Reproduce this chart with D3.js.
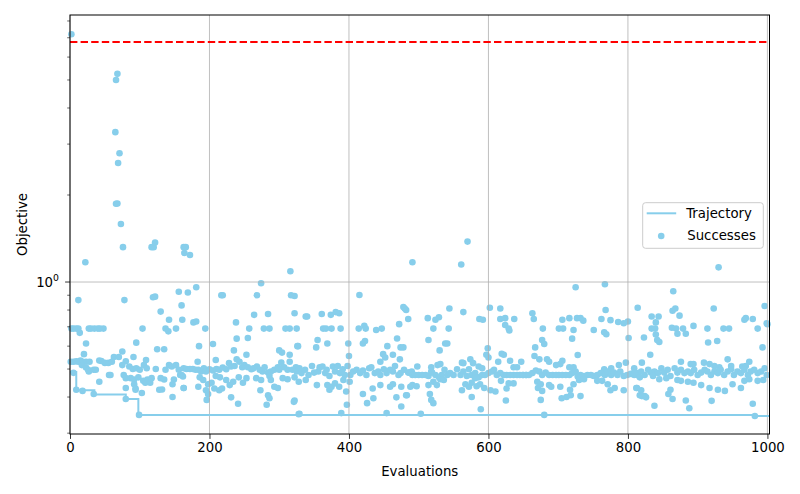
<!DOCTYPE html>
<html>
<head>
<meta charset="utf-8">
<script src="https://cdn.jsdelivr.net/npm/d3@7"></script>
<style>
  body { margin: 0; background: #fff; }
  svg { display: block; font-family: "DejaVu Sans", sans-serif; }
</style>
</head>
<body>
<svg id="chart"></svg>
<script>
const W = 800;
const H = 494;

// ── Data ──────────────────────────────────────────────────────────────────────

const THRESHOLD = 6.77;

// best-so-far trajectory [evaluation, objective]
const trajectory = [
  [0, 0.488], [9, 0.422], [35, 0.408], [80, 0.394], [98, 0.347], [982, 0.344], [1003, 0.344],
];

// successful evaluations [evaluation, objective]
const earlyRun = [
  [2, 7.2], [66, 5.0], [68, 5.25], [65, 3.3], [69, 2.58], [71, 2.79], [66, 1.865], [68, 1.87], [73, 1.587],
  [76, 1.32], [22, 1.17], [117, 1.32], [120, 1.32], [122, 1.37], [163, 1.32], [166, 1.32], [164, 1.26], [172, 1.24],
  [12, 0.866], [78, 0.866], [119, 0.886], [122, 0.89], [156, 0.925], [160, 0.83], [130, 0.79], [142, 0.74],
  [161, 0.74], [137, 0.69], [141, 0.675], [152, 0.69], [104, 0.69],
  [2, 0.69], [5, 0.69], [9, 0.69], [12, 0.69], [27, 0.69], [30, 0.69], [35, 0.69], [40, 0.69], [43, 0.69], [48, 0.69],
  [14, 0.667], [23, 0.613], [95, 0.617], [125, 0.585], [135, 0.585], [75, 0.575], [20, 0.563], [91, 0.55],
  [1, 0.53], [5, 0.53], [9, 0.532], [12, 0.53], [15, 0.535], [18, 0.53], [23, 0.53], [28, 0.53], [42, 0.535],
  [45, 0.533], [50, 0.525], [55, 0.525], [60, 0.53], [63, 0.55], [70, 0.55], [80, 0.532], [109, 0.537],
  [17, 0.516], [23, 0.506], [26, 0.497], [27, 0.49], [34, 0.497], [37, 0.497], [75, 0.516], [85, 0.51], [90, 0.5],
  [95, 0.503], [100, 0.497], [106, 0.516], [110, 0.503], [123, 0.5], [137, 0.497], [142, 0.516], [146, 0.51],
  [152, 0.516], [156, 0.497], [163, 0.503],
  [5, 0.485], [56, 0.477], [58, 0.477], [77, 0.477], [80, 0.465], [87, 0.465], [92, 0.46], [98, 0.468], [105, 0.455],
  [111, 0.46], [117, 0.465], [130, 0.465], [135, 0.46], [149, 0.46], [158, 0.477], [42, 0.452],
  [80, 0.43], [92, 0.443], [94, 0.428], [108, 0.448], [115, 0.448], [132, 0.425], [147, 0.443], [163, 0.43],
  [9, 0.424], [18, 0.42], [34, 0.41], [80, 0.394], [94, 0.424], [103, 0.413], [128, 0.424], [147, 0.4], [99, 0.347],
];

const midRun = [
  [217, 0.90], [219, 0.90], [268, 0.90], [317, 0.90], [322, 0.895], [181, 0.959], [169, 0.92], [274, 0.99],
  [316, 1.09], [415, 0.902],
  [177, 0.725], [181, 0.73], [194, 0.69], [264, 0.77], [284, 0.775], [322, 0.78], [238, 0.725], [257, 0.69],
  [278, 0.69], [286, 0.69], [309, 0.69], [315, 0.69], [325, 0.69],
  [255, 0.64], [239, 0.637], [185, 0.6], [205, 0.61], [327, 0.6], [235, 0.58], [300, 0.58], [304, 0.57],
  [253, 0.56], [315, 0.56], [183, 0.53], [209, 0.537],
  [160, 0.477], [167, 0.5], [172, 0.5], [176, 0.5], [180, 0.497], [184, 0.497], [188, 0.49], [192, 0.503],
  [195, 0.49], [200, 0.499], [205, 0.494], [210, 0.5], [214, 0.497], [219, 0.506], [224, 0.499], [228, 0.524],
  [231, 0.51], [236, 0.512], [239, 0.54], [243, 0.53], [247, 0.507], [250, 0.516], [255, 0.507], [260, 0.499],
  [263, 0.503], [268, 0.51], [272, 0.497], [276, 0.49], [279, 0.507], [284, 0.486], [288, 0.49], [293, 0.497],
  [298, 0.507], [300, 0.497], [303, 0.526], [307, 0.507], [312, 0.497], [315, 0.53], [319, 0.497], [324, 0.507],
  [328, 0.499],
  [162, 0.471], [186, 0.468], [191, 0.458], [198, 0.443], [203, 0.448], [209, 0.473], [215, 0.468], [218, 0.428],
  [224, 0.458], [229, 0.44], [234, 0.452], [242, 0.468], [248, 0.448], [253, 0.465], [267, 0.465], [274, 0.458],
  [286, 0.473], [288, 0.458], [293, 0.434], [298, 0.43], [305, 0.465], [312, 0.461], [322, 0.468],
  [163, 0.43], [184, 0.434], [195, 0.422], [198, 0.41], [196, 0.391], [207, 0.428], [214, 0.422], [231, 0.399],
  [241, 0.379], [273, 0.422], [284, 0.406], [286, 0.396], [282, 0.376], [322, 0.389], [328, 0.349],
  [478, 0.82], [480, 0.81], [482, 0.8], [485, 0.745], [338, 0.76], [340, 0.76], [361, 0.775], [374, 0.77],
  [381, 0.787], [386, 0.78], [363, 0.69], [367, 0.69], [375, 0.69], [388, 0.69], [414, 0.69], [422, 0.706],
  [424, 0.69], [439, 0.682], [447, 0.69], [472, 0.715], [326, 0.6], [353, 0.594], [355, 0.63], [369, 0.613],
  [399, 0.613], [420, 0.613], [423, 0.625], [400, 0.555], [455, 0.6], [469, 0.638], [474, 0.594], [478, 0.594],
  [449, 0.563], [452, 0.548], [445, 0.53], [463, 0.56], [473, 0.54],
  [325, 0.49], [329, 0.503], [332, 0.484], [337, 0.497], [342, 0.477], [347, 0.512], [350, 0.486], [356, 0.49],
  [358, 0.507], [362, 0.51], [366, 0.484], [368, 0.497], [372, 0.473], [377, 0.51], [380, 0.49], [384, 0.512],
  [387, 0.484], [391, 0.499], [394, 0.477], [398, 0.512], [402, 0.477], [406, 0.49], [411, 0.497], [416, 0.484],
  [420, 0.494], [425, 0.477], [429, 0.503], [432, 0.507], [437, 0.484], [442, 0.49], [445, 0.477], [450, 0.499],
  [454, 0.484], [459, 0.497], [463, 0.49], [466, 0.512], [471, 0.477], [474, 0.484], [479, 0.497], [485, 0.486],
  [490, 0.49],
  [328, 0.452], [338, 0.458], [354, 0.44], [369, 0.44], [372, 0.424], [375, 0.434], [380, 0.446], [386, 0.434],
  [392, 0.458], [396, 0.418], [401, 0.452], [420, 0.41], [426, 0.381], [434, 0.428], [435, 0.396], [445, 0.44],
  [459, 0.434], [463, 0.443], [468, 0.399], [475, 0.434], [482, 0.406], [475, 0.371], [488, 0.434], [321, 0.385],
  [329, 0.35], [389, 0.352], [397, 0.376], [454, 0.352],
];

const lateRun = [
  [491, 1.17], [561, 1.15], [570, 1.38], [725, 0.959], [767, 0.982], [865, 0.929], [930, 1.124], [996, 0.826],
  [999, 0.72],
  [544, 0.81], [564, 0.787], [602, 0.815], [617, 0.81], [513, 0.75], [524, 0.74], [529, 0.755], [587, 0.745],
  [592, 0.74], [617, 0.745], [624, 0.75], [637, 0.745], [521, 0.69], [543, 0.69], [624, 0.71], [629, 0.69],
  [630, 0.68], [514, 0.63], [538, 0.613], [541, 0.613], [530, 0.58], [599, 0.59], [597, 0.56], [600, 0.548],
  [619, 0.565], [622, 0.56], [614, 0.53], [631, 0.534], [564, 0.524], [574, 0.54], [578, 0.524], [586, 0.51],
  [647, 0.53], [636, 0.507], [641, 0.507],
  [486, 0.486], [491, 0.477], [495, 0.477], [500, 0.477], [505, 0.477], [510, 0.477], [514, 0.473], [519, 0.486],
  [524, 0.477], [529, 0.468], [533, 0.477], [537, 0.497], [541, 0.477], [545, 0.484], [550, 0.477], [555, 0.499],
  [560, 0.477], [564, 0.49], [569, 0.473], [572, 0.499], [576, 0.477], [581, 0.484], [586, 0.468], [591, 0.477],
  [595, 0.477], [600, 0.484], [605, 0.49], [608, 0.497], [612, 0.477], [617, 0.484], [622, 0.477], [626, 0.477],
  [631, 0.477], [636, 0.477], [641, 0.477], [645, 0.477], [650, 0.477], [654, 0.477], [498, 0.51], [518, 0.507],
  [527, 0.516], [531, 0.52], [562, 0.526], [591, 0.503], [518, 0.49],
  [491, 0.44], [497, 0.436], [514, 0.44], [521, 0.452], [526, 0.44], [531, 0.461], [536, 0.458], [562, 0.422],
  [567, 0.443], [572, 0.434], [576, 0.448], [581, 0.465], [583, 0.436], [588, 0.443], [594, 0.43], [603, 0.422],
  [610, 0.418], [618, 0.455], [626, 0.428], [629, 0.446], [636, 0.446], [483, 0.406], [516, 0.41], [518, 0.391],
  [521, 0.381], [576, 0.4], [589, 0.363], [625, 0.389], [503, 0.35],
  [814, 0.815], [768, 0.8], [663, 0.78], [665, 0.745], [706, 0.74], [716, 0.75], [727, 0.75], [732, 0.75],
  [736, 0.735], [762, 0.745], [775, 0.738], [786, 0.727], [794, 0.72], [800, 0.73], [701, 0.69], [707, 0.69],
  [722, 0.682], [751, 0.682], [766, 0.67], [769, 0.66], [678, 0.69], [720, 0.637], [801, 0.64], [677, 0.63],
  [680, 0.61], [667, 0.594], [728, 0.559], [666, 0.555], [673, 0.54], [684, 0.54], [687, 0.53], [706, 0.534],
  [703, 0.52], [697, 0.516], [716, 0.507], [722, 0.507], [766, 0.499], [776, 0.503], [787, 0.516], [797, 0.526],
  [809, 0.503],
  [649, 0.477], [654, 0.477], [658, 0.477], [663, 0.484], [668, 0.494], [673, 0.49], [677, 0.477], [682, 0.486],
  [687, 0.477], [692, 0.477], [697, 0.477], [701, 0.477], [706, 0.477], [711, 0.477], [716, 0.477], [720, 0.484],
  [725, 0.49], [728, 0.471], [732, 0.477], [737, 0.473], [742, 0.477], [747, 0.477], [751, 0.473], [756, 0.477],
  [761, 0.484], [767, 0.477], [771, 0.49], [776, 0.477], [780, 0.486], [785, 0.477], [789, 0.49], [794, 0.473],
  [799, 0.477], [804, 0.481], [809, 0.486], [813, 0.477],
  [670, 0.452], [671, 0.43], [675, 0.443], [687, 0.44], [690, 0.434], [703, 0.434], [717, 0.424], [722, 0.443],
  [730, 0.458], [737, 0.461], [756, 0.455], [763, 0.455], [771, 0.443], [775, 0.422], [781, 0.43], [794, 0.422],
  [812, 0.43], [817, 0.406], [677, 0.42], [675, 0.391], [705, 0.396], [712, 0.4], [718, 0.406], [732, 0.403],
  [680, 0.347],
  [864, 0.795], [868, 0.81], [923, 0.81], [834, 0.76], [844, 0.76], [874, 0.765], [840, 0.725], [967, 0.74],
  [969, 0.75], [979, 0.745], [834, 0.69], [839, 0.69], [863, 0.695], [869, 0.69], [879, 0.69], [894, 0.705],
  [914, 0.69], [937, 0.69], [945, 0.69], [986, 0.69], [1000, 0.715], [840, 0.658], [842, 0.63], [845, 0.62],
  [871, 0.662], [883, 0.662], [823, 0.643], [915, 0.618], [928, 0.625], [993, 0.594], [832, 0.56], [820, 0.526],
  [876, 0.53], [890, 0.52], [894, 0.52], [943, 0.54], [974, 0.53], [909, 0.526], [917, 0.52], [924, 0.512],
  [931, 0.507], [948, 0.512], [964, 0.51], [969, 0.512],
  [809, 0.477], [814, 0.484], [819, 0.49], [824, 0.477], [829, 0.497], [833, 0.486], [838, 0.49], [843, 0.484],
  [848, 0.503], [852, 0.486], [857, 0.497], [861, 0.473], [867, 0.503], [871, 0.486], [876, 0.497], [881, 0.484],
  [886, 0.49], [890, 0.484], [895, 0.497], [900, 0.477], [905, 0.486], [910, 0.497], [914, 0.49], [919, 0.477],
  [924, 0.49], [929, 0.484], [933, 0.497], [938, 0.477], [943, 0.49], [948, 0.499], [952, 0.477], [957, 0.49],
  [962, 0.484], [967, 0.497], [972, 0.477], [976, 0.49], [981, 0.497], [986, 0.484], [991, 0.49], [996, 0.503],
  [999, 0.477],
  [817, 0.468], [836, 0.473], [845, 0.461], [855, 0.465], [871, 0.458], [876, 0.455], [886, 0.452], [894, 0.448],
  [905, 0.44], [917, 0.43], [929, 0.424], [939, 0.42], [950, 0.443], [962, 0.43], [967, 0.455], [974, 0.461],
  [986, 0.455], [994, 0.458], [813, 0.43], [819, 0.422], [824, 0.403], [826, 0.399], [820, 0.403], [861, 0.424],
  [858, 0.41], [864, 0.394], [883, 0.389], [888, 0.366], [920, 0.388], [838, 0.373], [979, 0.379], [982, 0.344],
];

const xTicks = [0, 200, 400, 600, 800, 1000];
const yMinorTicks = [0.3, 0.4, 0.5, 0.6, 0.7, 0.8, 0.9, 2, 3, 4, 5, 6, 7, 8];

// ── Layout ────────────────────────────────────────────────────────────────────

const PL = 70, PR = 769.5, PT = 15, PB = 434;
const COLOR = '#87ceeb';
const FONT = 13.3;

const svg = d3.select('#chart').attr('width', W).attr('height', H);

const x = d3.scaleLinear().domain([0, 1003]).range([PL, PR]);
const y = d3.scaleLog().domain([0.298, 8.39]).range([PB, PT]);

// ── Marks ─────────────────────────────────────────────────────────────────────

const points = [...earlyRun, ...midRun, ...lateRun];

svg.append('g')
  .selectAll('circle')
  .data(points)
  .join('circle')
  .attr('cx', d => x(d[0]))
  .attr('cy', d => y(d[1]))
  .attr('r', 3.3)
  .attr('fill', COLOR);

// grid: vertical at x ticks, horizontal at 10^0
const grid = svg.append('g').attr('stroke', '#b0b0b0').attr('stroke-width', 0.8);
grid.selectAll('line.v')
  .data(xTicks)
  .join('line')
  .attr('x1', d => x(d)).attr('x2', d => x(d))
  .attr('y1', PT).attr('y2', PB);
grid.append('line')
  .attr('x1', PL).attr('x2', PR)
  .attr('y1', y(1)).attr('y2', y(1));

svg.append('line')
  .attr('x1', PL).attr('x2', PR)
  .attr('y1', y(THRESHOLD)).attr('y2', y(THRESHOLD))
  .attr('stroke', 'red')
  .attr('stroke-width', 2)
  .attr('stroke-dasharray', '7.4,3.2');

const line = d3.line()
  .x(d => x(d[0]))
  .y(d => y(d[1]))
  .curve(d3.curveStepAfter);

svg.append('path')
  .datum(trajectory)
  .attr('d', line)
  .attr('fill', 'none')
  .attr('stroke', COLOR)
  .attr('stroke-width', 2);

// ── Axes ──────────────────────────────────────────────────────────────────────

const xAxis = svg.append('g')
  .attr('transform', `translate(0,${PB})`)
  .call(d3.axisBottom(x).tickValues(xTicks).tickSize(4.9).tickPadding(3.5).tickFormat(d3.format('d')));
xAxis.select('.domain').remove();
xAxis.selectAll('text').attr('font-size', FONT).attr('font-family', 'DejaVu Sans').attr('fill', '#000');
xAxis.selectAll('line').attr('stroke', '#000').attr('stroke-width', 0.8);

const yAxis = svg.append('g').attr('transform', `translate(${PL},0)`);
yAxis.selectAll('line.minor')
  .data(yMinorTicks)
  .join('line')
  .attr('x1', -2.8).attr('x2', 0)
  .attr('y1', d => y(d)).attr('y2', d => y(d))
  .attr('stroke', '#000').attr('stroke-width', 0.6);
yAxis.append('line')
  .attr('x1', -4.9).attr('x2', 0)
  .attr('y1', y(1)).attr('y2', y(1))
  .attr('stroke', '#000').attr('stroke-width', 0.8);

const lab = yAxis.append('text')
  .attr('x', -11)
  .attr('y', y(1) + 5)
  .attr('text-anchor', 'end')
  .attr('font-size', FONT)
  .attr('fill', '#000');
lab.append('tspan').text('10');
lab.append('tspan').attr('font-size', FONT * 0.7).attr('dy', -6).text('0');

svg.append('rect')
  .attr('x', PL).attr('y', PT)
  .attr('width', PR - PL).attr('height', PB - PT)
  .attr('fill', 'none')
  .attr('stroke', '#000')
  .attr('stroke-width', 1);

svg.append('text')
  .attr('x', (PL + PR) / 2)
  .attr('y', 476)
  .attr('text-anchor', 'middle')
  .attr('font-size', FONT)
  .text('Evaluations');

svg.append('text')
  .attr('transform', `translate(27,${(PT + PB) / 2}) rotate(-90)`)
  .attr('text-anchor', 'middle')
  .attr('font-size', FONT)
  .text('Objective');

// ── Legend ────────────────────────────────────────────────────────────────────

const legend = svg.append('g').attr('transform', 'translate(642.7,202.7)');
legend.append('rect')
  .attr('width', 120.6).attr('height', 45.6)
  .attr('rx', 2.8)
  .attr('fill', 'rgba(255,255,255,0.8)')
  .attr('stroke', '#cccccc')
  .attr('stroke-width', 1);
legend.append('line')
  .attr('x1', 4).attr('x2', 33.5)
  .attr('y1', 10.6).attr('y2', 10.6)
  .attr('stroke', COLOR).attr('stroke-width', 2);
legend.append('circle')
  .attr('cx', 18.5).attr('cy', 33.3).attr('r', 3.3)
  .attr('fill', COLOR);
legend.append('text')
  .attr('x', 43.5).attr('y', 15.5)
  .attr('font-size', FONT)
  .text('Trajectory');
legend.append('text')
  .attr('x', 44.5).attr('y', 37.5)
  .attr('font-size', FONT)
  .text('Successes');
</script>
</body>
</html>
